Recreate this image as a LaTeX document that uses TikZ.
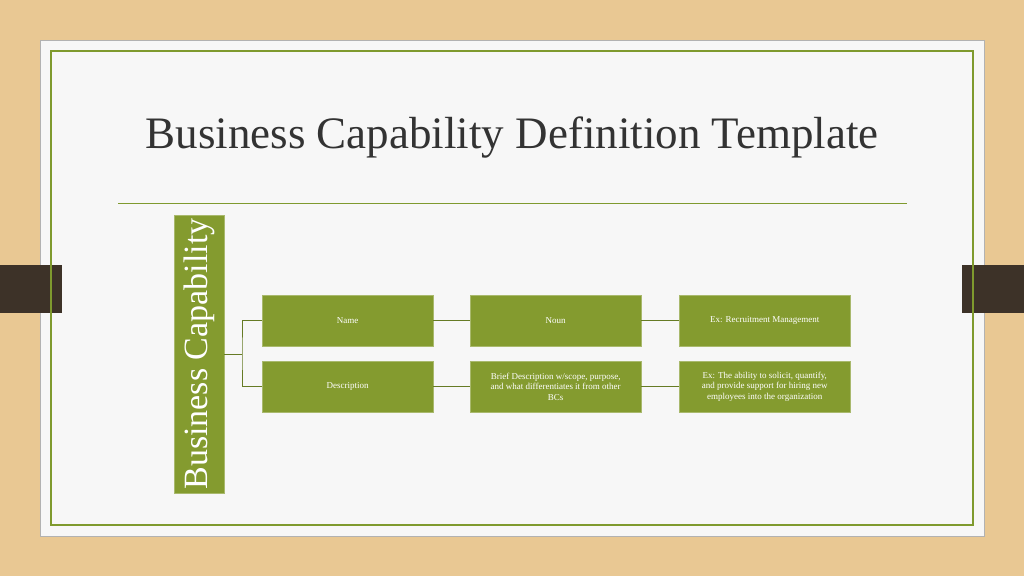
\documentclass[tikz,border=0pt]{standalone}
\usepackage{fontspec}
\setmainfont{Liberation Serif}
\definecolor{wood}{HTML}{E9C893}
\definecolor{grn}{HTML}{7F9A2E}
\definecolor{bx}{HTML}{849B2F}
\definecolor{card}{HTML}{F7F7F7}
\definecolor{tab}{HTML}{3D3228}
\begin{document}
\begin{tikzpicture}[x=1pt,y=-1pt,
  gbox/.style={fill=bx,draw=bx!70!white,text=white,minimum width=171pt,minimum height=51pt,inner sep=2pt,align=center,font=\fontsize{9}{10.5}\selectfont,anchor=north west},
  conn/.style={draw=grn!80!black,line width=0.8pt}]
\useasboundingbox (0,0) rectangle (1024,576);
\fill[wood] (0,0) rectangle (1024,576);
\fill[card,draw=gray!60] (40,40) rectangle (984,536);
\fill[tab] (0,265) rectangle (62,313);
\fill[tab] (962,265) rectangle (1024,313);
\draw[grn,line width=1.2pt] (51,51) rectangle (973,525);
\node[anchor=west,text=black!80] (title) at (142,138) {\fontsize{45}{50}\selectfont Business Capability Definition Template};
\draw[grn,line width=0.8pt] (118,203) -- (907,203);
\node[fill=bx,draw=bx!70!white,minimum width=278pt,minimum height=50pt,inner sep=0pt,rotate=90,text=white,font=\fontsize{34}{36}\selectfont] (bc) at (199,354) {Business Capability};
\node[gbox] (name) at (262,295) {Name};
\node[gbox] (desc) at (262,361) {Description};
\node[gbox] (noun) at (470,295) {Noun};
\node[gbox] (brief) at (470,361) {Brief Description w/scope, purpose,\\ and what differentiates it from other\\ BCs};
\node[gbox] (ex1) at (679,295) {Ex: Recruitment Management};
\node[gbox] (ex2) at (679,361) {Ex: The ability to solicit, quantify,\\ and provide support for hiring new\\ employees into the organization};
\coordinate (br) at (242,354);
\draw[conn] (bc.south) -- (br);
\draw[conn] (name.west) -| (br) |- (desc.west);
\draw[conn] (name.east) -- (noun.west);
\draw[conn] (noun.east) -- (ex1.west);
\draw[conn] (desc.east) -- (brief.west);
\draw[conn] (brief.east) -- (ex2.west);
\end{tikzpicture}
\end{document}
